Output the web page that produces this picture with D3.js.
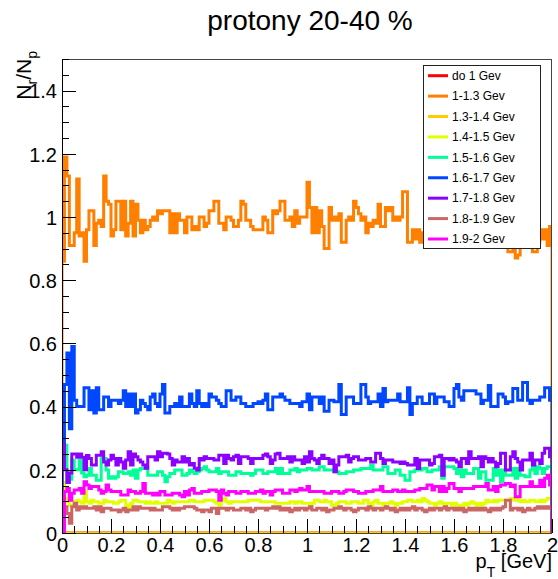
<!DOCTYPE html>
<html><head><meta charset="utf-8">
<script src="https://cdn.jsdelivr.net/npm/d3@7"></script>
<style>
body{margin:0;background:#fff}
svg{display:block}
text{font-family:"Liberation Sans",Arial,Helvetica,sans-serif;fill:#000}
</style>
</head><body>
<svg id="chart" width="558" height="579"></svg>
<script>
const chartTitle = "protony 20-40 %";
const xTitle = "p";
const xTitleSub = "T";
const xTitleRest = " [GeV]";
const yTitle = ["N","r","/N","p"];
const xDomain = [0, 2];
const yDomain = [0, 1.5];
const xTicks = [0,0.2,0.4,0.6,0.8,1,1.2,1.4,1.6,1.8,2];
const xTickLabels = ["0","0.2","0.4","0.6","0.8","1","1.2","1.4","1.6","1.8","2"];
const yTicks = [0,0.2,0.4,0.6,0.8,1,1.2,1.4];
const yTickLabels = ["0","0.2","0.4","0.6","0.8","1","1.2","1.4"];
const seriesNames = ["do 1 Gev","1-1.3 Gev","1.3-1.4 Gev","1.4-1.5 Gev","1.5-1.6 Gev","1.6-1.7 Gev","1.7-1.8 Gev","1.8-1.9 Gev","1.9-2 Gev"];

const do1 = [
0,0,0,0,0,0,0,0,0,0, 0,0,0,0,0,0,0,0,0,0, 0,0,0,0,0,0,0,0,0,0, 0,0,0,0,0,0,0,0,0,0,
0,0,0,0,0,0,0,0,0,0, 0,0,0,0,0,0,0,0,0,0, 0,0,0,0,0,0,0,0,0,0, 0,0,0,0,0,0,0,0,0,0,
0,0,0,0,0,0,0,0,0,0, 0,0,0,0,0,0,0,0,0,0, 0,0,0,0,0,0,0,0,0,0, 0,0,0,0,0,0,0,0,0,0,
0,0,0,0,0,0,0,0,0,0, 0,0,0,0,0,0,0,0,0,0, 0,0,0,0,0,0,0,0,0,0, 0,0,0,0,0,0,0,0,0,0,
0,0,0,0,0,0,0,0,0,0, 0,0,0,0,0,0,0,0,0,0, 0,0,0,0,0,0,0,0,0,0, 0,0,0,0,0,0,0,0,0,0];
const g1_13 = [
0.86,1.19,1.13,0.91,0.91,0.95,1.12,0.94,0.95,0.86,
0.96,1.02,1.02,0.91,0.98,0.99,0.97,1.13,1.05,1.04,
0.94,0.96,1.05,1.05,0.96,1.05,0.94,0.98,1.05,0.94,
1.04,0.99,0.95,0.99,0.96,0.97,0.99,1.00,0.99,1.02,
1.01,1.02,1.02,1.02,0.95,1.01,0.95,1.01,0.99,0.99,
0.95,1.00,1.00,0.96,0.97,0.96,1.00,1.00,0.97,0.98,
1.02,1.02,1.05,1.05,0.98,0.98,0.96,1.00,1.00,0.99,
0.97,0.97,0.99,1.05,1.04,0.99,0.99,0.97,0.96,0.96,
0.96,0.96,1.00,0.99,0.95,0.95,1.02,1.01,1.02,1.05,
1.05,0.99,0.99,1.00,0.97,1.02,0.98,1.00,1.00,1.00,
1.11,1.03,0.95,1.03,0.95,1.02,0.97,0.90,0.90,1.03,
0.99,1.00,0.99,1.01,0.92,0.92,0.99,1.00,0.99,1.05,
1.03,1.01,0.99,1.00,0.95,0.98,0.97,0.99,0.98,1.04,
0.97,0.97,1.03,1.02,1.03,0.99,1.00,0.99,1.00,1.08,
1.08,0.92,0.92,0.96,0.93,0.96,0.92,0.95,0.97,0.94,
0.98,0.96,0.95,0.99,0.97,0.94,0.98,0.96,0.95,0.97,
0.99,0.95,0.96,0.98,0.94,0.97,0.96,0.99,0.95,0.96,
0.97,0.94,0.96,0.98,0.95,0.93,0.97,0.95,0.96,0.94,
0.95,0.91,0.89,0.89,0.93,0.87,0.88,0.94,0.96,0.92,
0.95,0.93,0.89,0.89,0.92,0.96,0.93,0.96,0.91,0.97];
const g13_14 = [
0,0,0,0,0,0,0,0,0,0, 0,0,0,0,0,0,0,0,0,0, 0,0,0,0,0,0,0,0,0,0, 0,0,0,0,0,0,0,0,0,0,
0,0,0,0,0,0,0,0,0,0, 0,0,0,0,0,0,0,0,0,0, 0,0,0,0,0,0,0,0,0,0, 0,0,0,0,0,0,0,0,0,0,
0,0,0,0,0,0,0,0,0,0, 0,0,0,0,0,0,0,0,0,0, 0,0,0,0,0,0,0,0,0,0, 0,0,0,0,0,0,0,0,0,0,
0,0,0,0,0,0,0,0,0,0, 0,0,0,0,0,0,0,0,0,0, 0,0,0,0,0,0,0,0,0,0, 0,0,0,0,0,0,0,0,0,0,
0,0,0,0,0,0,0,0,0,0, 0,0,0,0,0,0,0,0,0,0, 0,0,0,0,0,0,0,0,0,0, 0,0,0,0,0,0,0,0,0,0];
const g14_15 = [
0.16,0.11,0.10,0.088,0.083,0.10,0.104,0.099,0.094,0.131,
0.099,0.094,0.104,0.099,0.099,0.094,0.094,0.104,0.099,0.099,
0.099,0.094,0.094,0.099,0.104,0.104,0.088,0.078,0.094,0.104,
0.104,0.099,0.099,0.099,0.094,0.099,0.094,0.094,0.099,0.094,
0.094,0.094,0.094,0.104,0.099,0.094,0.099,0.099,0.099,0.099,
0.099,0.099,0.104,0.104,0.099,0.099,0.099,0.099,0.104,0.104,
0.104,0.104,0.099,0.094,0.088,0.104,0.109,0.099,0.094,0.099,
0.099,0.099,0.099,0.099,0.099,0.099,0.104,0.104,0.104,0.104,
0.104,0.099,0.099,0.099,0.099,0.099,0.099,0.094,0.094,0.094,
0.094,0.094,0.094,0.099,0.099,0.094,0.099,0.099,0.094,0.094,
0.094,0.088,0.094,0.104,0.104,0.099,0.099,0.104,0.099,0.099,
0.088,0.088,0.094,0.099,0.099,0.099,0.094,0.094,0.099,0.099,
0.099,0.094,0.094,0.104,0.104,0.094,0.088,0.099,0.104,0.094,
0.094,0.088,0.094,0.094,0.099,0.094,0.088,0.094,0.094,0.099,
0.099,0.104,0.104,0.099,0.099,0.104,0.099,0.109,0.104,0.099,
0.094,0.094,0.088,0.094,0.099,0.094,0.088,0.094,0.094,0.088,
0.094,0.088,0.083,0.088,0.094,0.088,0.094,0.099,0.094,0.088,
0.094,0.088,0.094,0.104,0.099,0.099,0.104,0.099,0.104,0.104,
0.104,0.104,0.104,0.109,0.104,0.109,0.104,0.099,0.104,0.099,
0.099,0.104,0.104,0.099,0.099,0.104,0.099,0.104,0.109,0.109];
const g15_16 = [
0.278,0.278,0.162,0.17,0.23,0.20,0.20,0.23,0.19,0.178,
0.183,0.204,0.183,0.183,0.167,0.167,0.236,0.236,0.199,0.173,
0.178,0.173,0.178,0.194,0.194,0.188,0.188,0.194,0.183,0.199,
0.173,0.199,0.204,0.204,0.204,0.183,0.183,0.183,0.183,0.194,
0.194,0.183,0.162,0.178,0.188,0.188,0.199,0.199,0.199,0.183,
0.183,0.188,0.199,0.194,0.188,0.194,0.199,0.204,0.21,0.199,
0.194,0.194,0.194,0.204,0.188,0.194,0.194,0.194,0.183,0.183,
0.183,0.194,0.194,0.188,0.188,0.188,0.188,0.183,0.188,0.199,
0.199,0.199,0.188,0.188,0.194,0.194,0.194,0.204,0.188,0.204,
0.188,0.188,0.188,0.199,0.199,0.204,0.194,0.199,0.199,0.199,
0.204,0.204,0.199,0.199,0.199,0.21,0.21,0.199,0.199,0.199,
0.199,0.194,0.194,0.188,0.188,0.188,0.194,0.194,0.194,0.199,
0.199,0.199,0.204,0.204,0.204,0.204,0.215,0.199,0.199,0.199,
0.199,0.21,0.21,0.188,0.188,0.188,0.199,0.199,0.183,0.183,
0.167,0.167,0.194,0.194,0.199,0.199,0.199,0.204,0.204,0.194,
0.194,0.199,0.199,0.199,0.21,0.173,0.21,0.21,0.21,0.21,
0.204,0.188,0.199,0.178,0.199,0.188,0.188,0.188,0.204,0.204,
0.173,0.194,0.194,0.167,0.167,0.167,0.204,0.183,0.199,0.162,
0.199,0.183,0.183,0.183,0.204,0.173,0.204,0.183,0.183,0.178,
0.178,0.199,0.21,0.188,0.21,0.204,0.188,0.204,0.21,0.21];
const g16_17 = [
0.25,0.47,0.57,0.33,0.59,0.42,0.40,0.40,0.40,0.46,
0.46,0.39,0.45,0.38,0.46,0.39,0.39,0.43,0.43,0.40,
0.42,0.42,0.42,0.41,0.42,0.45,0.40,0.44,0.40,0.44,
0.38,0.39,0.42,0.41,0.40,0.39,0.43,0.44,0.41,0.40,
0.44,0.47,0.38,0.38,0.40,0.40,0.41,0.40,0.43,0.40,
0.40,0.40,0.44,0.41,0.40,0.45,0.41,0.40,0.41,0.40,
0.44,0.43,0.43,0.42,0.41,0.40,0.40,0.45,0.45,0.42,
0.42,0.43,0.43,0.41,0.41,0.40,0.40,0.40,0.41,0.41,
0.415,0.41,0.42,0.44,0.39,0.39,0.43,0.43,0.43,0.44,
0.43,0.42,0.42,0.41,0.41,0.41,0.41,0.40,0.415,0.415,
0.44,0.39,0.43,0.43,0.43,0.41,0.43,0.385,0.385,0.42,
0.42,0.415,0.415,0.47,0.375,0.375,0.43,0.43,0.43,0.41,
0.41,0.41,0.47,0.47,0.43,0.41,0.415,0.415,0.415,0.44,
0.40,0.457,0.415,0.42,0.42,0.42,0.42,0.44,0.415,0.415,
0.415,0.46,0.375,0.41,0.41,0.43,0.43,0.41,0.41,0.41,
0.44,0.44,0.41,0.43,0.43,0.43,0.415,0.415,0.40,0.40,
0.457,0.47,0.43,0.42,0.45,0.45,0.45,0.45,0.45,0.44,
0.44,0.41,0.42,0.42,0.467,0.40,0.40,0.40,0.44,0.44,
0.43,0.41,0.415,0.415,0.457,0.457,0.42,0.42,0.476,0.476,
0.42,0.41,0.42,0.42,0.42,0.43,0.43,0.46,0.46,0.42];
const g17_18 = [
0.28,0.20,0.16,0.19,0.25,0.25,0.24,0.25,0.24,0.20,
0.245,0.236,0.215,0.215,0.246,0.246,0.257,0.225,0.215,0.231,
0.246,0.236,0.215,0.236,0.225,0.205,0.231,0.257,0.215,0.25,
0.241,0.231,0.225,0.215,0.205,0.241,0.241,0.241,0.231,0.257,
0.241,0.252,0.252,0.25,0.236,0.215,0.231,0.225,0.225,0.241,
0.225,0.236,0.215,0.22,0.205,0.199,0.236,0.231,0.241,0.236,
0.236,0.236,0.231,0.231,0.246,0.246,0.22,0.246,0.236,0.231,
0.241,0.246,0.22,0.241,0.241,0.241,0.236,0.22,0.236,0.236,
0.236,0.236,0.246,0.25,0.241,0.22,0.231,0.25,0.252,0.236,
0.236,0.236,0.241,0.225,0.241,0.231,0.231,0.231,0.22,0.241,
0.225,0.257,0.236,0.231,0.22,0.236,0.246,0.236,0.236,0.22,
0.231,0.194,0.215,0.241,0.241,0.241,0.246,0.225,0.236,0.241,
0.241,0.231,0.231,0.231,0.236,0.236,0.225,0.225,0.252,0.252,
0.236,0.22,0.231,0.231,0.231,0.225,0.225,0.225,0.22,0.225,
0.22,0.215,0.215,0.215,0.236,0.204,0.231,0.231,0.231,0.231,
0.215,0.22,0.241,0.241,0.246,0.183,0.236,0.236,0.231,0.236,
0.231,0.225,0.21,0.236,0.236,0.22,0.257,0.236,0.236,0.236,
0.241,0.21,0.241,0.236,0.225,0.236,0.225,0.21,0.22,0.252,
0.252,0.199,0.199,0.241,0.257,0.236,0.225,0.199,0.231,0.231,
0.231,0.252,0.215,0.231,0.231,0.22,0.252,0.268,0.268,0.241];
const g18_19 = [
0.078,0.083,0.062,0.031,0.083,0.094,0.073,0.083,0.078,0.083,
0.078,0.078,0.078,0.083,0.073,0.083,0.067,0.078,0.078,0.078,
0.073,0.073,0.073,0.067,0.073,0.078,0.067,0.073,0.073,0.083,
0.073,0.083,0.078,0.078,0.078,0.078,0.073,0.078,0.073,0.073,
0.073,0.083,0.083,0.083,0.078,0.073,0.078,0.073,0.078,0.078,
0.083,0.083,0.083,0.083,0.078,0.073,0.073,0.067,0.073,0.073,
0.067,0.078,0.078,0.062,0.078,0.078,0.078,0.073,0.078,0.078,
0.073,0.073,0.073,0.078,0.078,0.073,0.078,0.067,0.073,0.078,
0.078,0.078,0.078,0.073,0.078,0.078,0.083,0.078,0.083,0.073,
0.078,0.073,0.078,0.067,0.073,0.078,0.073,0.078,0.078,0.073,
0.078,0.083,0.073,0.073,0.078,0.078,0.073,0.078,0.067,0.073,
0.073,0.078,0.078,0.083,0.078,0.073,0.078,0.078,0.073,0.067,
0.073,0.078,0.078,0.078,0.073,0.083,0.078,0.073,0.078,0.078,
0.073,0.078,0.083,0.078,0.073,0.078,0.067,0.073,0.078,0.073,
0.078,0.073,0.078,0.083,0.073,0.078,0.078,0.073,0.067,0.073,
0.078,0.073,0.078,0.078,0.073,0.078,0.083,0.073,0.078,0.078,
0.073,0.078,0.073,0.078,0.067,0.073,0.078,0.073,0.078,0.073,
0.078,0.073,0.078,0.073,0.067,0.078,0.073,0.078,0.073,0.078,
0.083,0.104,0.104,0.073,0.078,0.078,0.073,0.078,0.067,0.073,
0.078,0.073,0.073,0.078,0.083,0.078,0.083,0.078,0.083,0.078];
const g19_2 = [
0,0.131,0.141,0.104,0.126,0.136,0.136,0.141,0.126,0.162,
0.152,0.141,0.147,0.147,0.147,0.136,0.126,0.131,0.152,0.136,
0.131,0.131,0.131,0.131,0.12,0.12,0.12,0.136,0.131,0.131,
0.126,0.126,0.131,0.157,0.126,0.126,0.126,0.12,0.126,0.12,
0.131,0.131,0.12,0.12,0.12,0.126,0.126,0.126,0.12,0.115,
0.131,0.12,0.136,0.141,0.126,0.126,0.126,0.131,0.131,0.131,
0.136,0.136,0.136,0.131,0.104,0.136,0.126,0.12,0.131,0.131,
0.131,0.126,0.126,0.131,0.131,0.131,0.126,0.126,0.126,0.131,
0.131,0.136,0.126,0.131,0.131,0.12,0.131,0.136,0.136,0.136,
0.126,0.126,0.126,0.136,0.136,0.131,0.136,0.141,0.136,0.136,
0.147,0.131,0.131,0.131,0.131,0.131,0.131,0.126,0.126,0.126,
0.131,0.131,0.131,0.126,0.126,0.131,0.136,0.136,0.136,0.131,
0.131,0.126,0.126,0.126,0.131,0.131,0.131,0.136,0.136,0.136,
0.147,0.131,0.131,0.131,0.131,0.136,0.136,0.131,0.131,0.136,
0.131,0.131,0.131,0.131,0.136,0.136,0.141,0.141,0.141,0.152,
0.152,0.136,0.147,0.147,0.131,0.147,0.131,0.141,0.157,0.157,
0.141,0.141,0.131,0.141,0.141,0.141,0.141,0.141,0.147,0.147,
0.147,0.147,0.147,0.157,0.136,0.136,0.147,0.131,0.147,0.152,
0.152,0.157,0.157,0.147,0.152,0.115,0.115,0.147,0.147,0.147,
0.147,0.162,0.147,0.147,0.147,0.167,0.147,0.173,0.183,0.152];

const seriesValues = [do1, g1_13, g13_14, g14_15, g15_16, g16_17, g17_18, g18_19, g19_2];
const seriesColors = ["#ff0000","#ff8000","#ffcc00","#e2ff00","#00ff99","#0047ff","#8c00ff","#cc6666","#ff00ff"];

const W = 558, H = 579;
const L = 62, R = 552, T = 59, B = 533;
const svg = d3.select("#chart");
const x = d3.scaleLinear().domain(xDomain).range([L, R]);
const y = d3.scaleLinear().domain(yDomain).range([B, T]);

svg.append("defs").append("clipPath").attr("id","frameClip")
  .append("rect").attr("x", L).attr("y", T).attr("width", R - L).attr("height", B - T);

// histograms
const gH = svg.append("g").attr("clip-path","url(#frameClip)");
const line = d3.line();
seriesValues.forEach((vals, si) => {
  const n = vals.length;
  const w = (xDomain[1] - xDomain[0]) / n;
  const pts = [[x(xDomain[0]), y(0)]];
  vals.forEach((v, i) => {
    pts.push([x(xDomain[0] + i * w), y(v)]);
    pts.push([x(xDomain[0] + (i + 1) * w), y(v)]);
  });
  pts.push([x(xDomain[1]), y(0)]);
  gH.append("path").attr("d", line(pts))
    .attr("fill","none").attr("stroke", seriesColors[si])
    .attr("stroke-width", 3).attr("stroke-linejoin","miter");
});

// frame
svg.append("rect").attr("x", L + 0.5).attr("y", T + 0.5).attr("width", R - L - 1).attr("height", B - T)
  .attr("fill","none").attr("stroke","#444").attr("stroke-width",1);

// axes
const xMinor = d3.range(0, 2.0001, 0.05);
const yMinor = d3.range(0, 1.5001, 0.05);
const gx = svg.append("g").attr("transform", `translate(0,${B})`);
gx.call(d3.axisBottom(x).tickValues(xMinor).tickSizeInner(-7).tickSizeOuter(0).tickFormat(""));
gx.call(g => g.select(".domain").remove());
const gx2 = svg.append("g").attr("transform", `translate(0,${B})`);
gx2.call(d3.axisBottom(x).tickValues(xTicks).tickSizeInner(-14).tickSizeOuter(0).tickPadding(5)
  .tickFormat((d, i) => xTickLabels[i]));
gx2.select(".domain").remove();
gx2.selectAll("text").attr("font-size", 20).style("font-family", '"Liberation Sans",Arial,sans-serif');

const gy = svg.append("g").attr("transform", `translate(${L},0)`);
gy.call(d3.axisLeft(y).tickValues(yMinor).tickSizeInner(-7).tickSizeOuter(0).tickFormat(""));
gy.select(".domain").remove();
const gy2 = svg.append("g").attr("transform", `translate(${L},0)`);
gy2.call(d3.axisLeft(y).tickValues(yTicks).tickSizeInner(-14).tickSizeOuter(0).tickPadding(5)
  .tickFormat((d, i) => yTickLabels[i]));
gy2.select(".domain").remove();
gy2.selectAll("text").attr("font-size", 20).attr("dy","0.36em").style("font-family", '"Liberation Sans",Arial,sans-serif');
svg.selectAll(".tick line").attr("stroke","#000").attr("shape-rendering","crispEdges");

// axis lines
svg.append("line").attr("x1", L + 0.5).attr("x2", L + 0.5).attr("y1", T).attr("y2", B)
  .attr("stroke","#000").attr("stroke-width",1);

// title
svg.append("text").attr("x", 310).attr("y", 30).attr("text-anchor","middle")
  .attr("font-size", 28).text(chartTitle);

// x title
const xt = svg.append("text").attr("x", R).attr("y", 568).attr("text-anchor","end").attr("font-size", 20);
xt.append("tspan").text(xTitle);
xt.append("tspan").attr("font-size", 14).attr("dy", 9).text(xTitleSub);
xt.append("tspan").attr("dy", -9).text(xTitleRest);

// y title
const yt = svg.append("text").attr("transform", "translate(31,51) rotate(-90)")
  .attr("text-anchor","end").attr("font-size", 21);
yt.append("tspan").text(yTitle[0]);
yt.append("tspan").attr("font-size", 14).attr("dy", 6).text(yTitle[1]);
yt.append("tspan").attr("dy", -6).text(yTitle[2]);
yt.append("tspan").attr("font-size", 14).attr("dy", 6).text(yTitle[3]);

// legend
const lg = svg.append("g");
lg.append("rect").attr("x", 423.5).attr("y", 65.5).attr("width", 117).attr("height", 183)
  .attr("fill","#fff").attr("stroke","#222").attr("stroke-width",1);
const rowY = d3.scaleLinear().domain([0, seriesNames.length - 1]).range([75.7, 239]);
seriesNames.forEach((nm, i) => {
  const yy = rowY(i);
  lg.append("line").attr("x1", 428).attr("x2", 448).attr("y1", yy).attr("y2", yy)
    .attr("stroke", seriesColors[i]).attr("stroke-width", 3);
  lg.append("text").attr("x", 452).attr("y", yy).attr("dy","0.36em").attr("font-size", 12).text(nm);
});
</script>
</body></html>
